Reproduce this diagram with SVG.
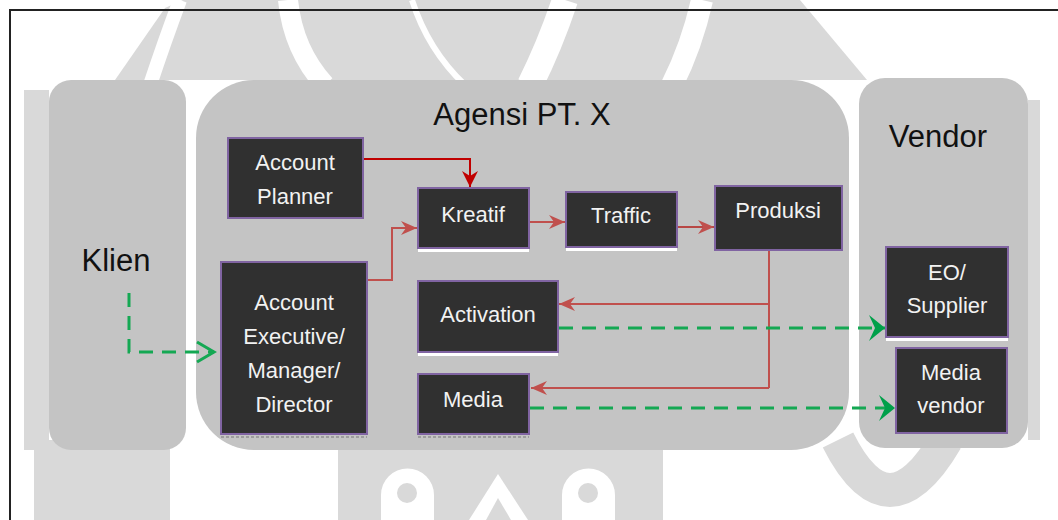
<svg xmlns="http://www.w3.org/2000/svg" width="1058" height="520" viewBox="0 0 1058 520">
<style>
.wm{fill:#d9d9d9}
.wmw{fill:none;stroke:#ffffff}
.panel{fill:#c4c4c4}
.box{fill:#303030;stroke:#8064a2;stroke-width:2}
.shine{fill:#ffffff}
.lbl{font-family:"Liberation Sans",Arial,sans-serif;font-size:22px;fill:#f2f2f2;text-anchor:middle}
.title{font-family:"Liberation Sans",Arial,sans-serif;font-size:31px;fill:#111111;text-anchor:middle}
.red{fill:none;stroke:#c0504d;stroke-width:2}
.dred{fill:none;stroke:#c00000;stroke-width:2}
.green{fill:none;stroke:#14a853;stroke-width:3;stroke-dasharray:14 9}
</style>
<defs>
<marker id="arRed" viewBox="0 0 16 14" markerWidth="16" markerHeight="14" refX="16" refY="7" orient="auto" markerUnits="userSpaceOnUse"><path d="M0,0 L16,7 L0,14 L5,7 Z" fill="#c0504d"/></marker>
<marker id="arDred" viewBox="0 0 16 16" markerWidth="16" markerHeight="16" refX="16" refY="8" orient="auto" markerUnits="userSpaceOnUse"><path d="M0,0 L16,8 L0,16 L5,8 Z" fill="#c00000"/></marker>
<marker id="arGreen" viewBox="0 0 16 26" markerWidth="16" markerHeight="26" refX="16" refY="13" orient="auto" markerUnits="userSpaceOnUse"><path d="M0,0 L16,13 L0,26 L6,13 Z" fill="#00a04a"/></marker>
<marker id="arChev" viewBox="0 0 20 24" markerWidth="20" markerHeight="24" refX="18" refY="12" orient="auto" markerUnits="userSpaceOnUse" overflow="visible"><path d="M1,2 L18,12 L1,22" fill="none" stroke="#14a853" stroke-width="3"/></marker>
</defs>
<rect width="1058" height="520" fill="#ffffff"/>
<g id="watermark">
<path class="wm" d="M115,80 L165,8 L183,0 L800,0 L867,80 Z"/>
<path class="wmw" stroke-width="14" d="M180,0 Q165,40 150,85"/>
<path class="wmw" stroke-width="20" d="M288,0 Q293,50 325,85"/>
<path class="wmw" stroke-width="6" d="M412,0 Q428,50 465,85"/>
<path class="wmw" stroke-width="26" d="M565,0 Q550,45 530,85"/>
<path class="wmw" stroke-width="22" d="M702,0 Q692,45 672,85"/>
<rect class="wm" x="24" y="90" width="25" height="360"/>
<rect class="wm" x="34" y="440" width="136" height="80"/>
<rect class="wm" x="1028" y="100" width="12" height="340"/>
<rect class="wm" x="338" y="440" width="325" height="80"/>
<path class="shine" d="M381,495 A26,26 0 0 1 434,495 L434,520 L381,520 Z"/>
<circle class="wm" cx="407" cy="493" r="10"/>
<path class="shine" d="M562,495 A26,26 0 0 1 615,495 L615,520 L562,520 Z"/>
<circle class="wm" cx="588" cy="493" r="10"/>
<path class="shine" d="M469,520 L498,474 L528,520 Z"/>
<path class="wm" d="M486,520 L498,498 L511,520 Z"/>
<path class="wmw" stroke="#d9d9d9" stroke-width="34" d="M838,440 Q888,540 946,440" style="stroke:#d9d9d9"/>
</g>
<path d="M10,520 L10,10 L1058,10" fill="none" stroke="#222222" stroke-width="2"/>
<g id="panels">
<rect id="klien" class="panel" x="49" y="80" width="137" height="370" rx="22"/>
<rect id="agensi" class="panel" x="196" y="80" width="653" height="370" rx="58"/>
<rect id="vendor" class="panel" x="859" y="78" width="169" height="370" rx="26"/>
<text class="title" x="522" y="125">Agensi PT. X</text>
<text class="title" x="938" y="147">Vendor</text>
<text class="title" x="116" y="271" font-size="32">Klien</text>
</g>
<g id="connectors">
<path class="dred" d="M363,159 H470 V187" marker-end="url(#arDred)"/>
<path class="red" d="M367,280 H392 V228 H417" marker-end="url(#arRed)"/>
<path class="red" d="M529,222 H565" marker-end="url(#arRed)"/>
<path class="red" d="M677,227 H714" stroke-width="3" style="stroke:#b84744" marker-end="url(#arRed)"/>
<path class="red" d="M769,250 V388"/>
<path class="red" d="M769,304 H559" marker-end="url(#arRed)"/>
<path class="red" d="M769,388 H531" marker-end="url(#arRed)"/>
<path class="green" d="M129,293 V352 H214" marker-end="url(#arChev)"/>
<path class="green" d="M559,328 H885" marker-end="url(#arGreen)"/>
<path class="green" d="M530,408 H895" marker-end="url(#arGreen)"/>
</g>
<g id="node-account-planner">
<rect class="box" x="228" y="138" width="135" height="80"/>
<text class="lbl" x="295" y="170">Account</text>
<text class="lbl" x="295" y="204">Planner</text>
</g>
<g id="node-account-executive">
<line x1="221" y1="437" x2="367" y2="437" stroke="#777" stroke-width="1" stroke-dasharray="3 2"/>
<rect class="box" x="221" y="262" width="146" height="172"/>
<text class="lbl" x="294" y="310">Account</text>
<text class="lbl" x="294" y="344">Executive/</text>
<text class="lbl" x="294" y="378">Manager/</text>
<text class="lbl" x="294" y="412">Director</text>
</g>
<g id="node-kreatif">
<rect class="shine" x="418" y="249" width="111" height="3"/>
<rect class="box" x="418" y="188" width="111" height="60"/>
<text class="lbl" x="473" y="222">Kreatif</text>
</g>
<g id="node-traffic">
<rect class="shine" x="566" y="248" width="111" height="3"/>
<rect class="box" x="566" y="192" width="111" height="55"/>
<text class="lbl" x="621" y="223">Traffic</text>
</g>
<g id="node-produksi">
<rect class="box" x="715" y="186" width="127" height="64"/>
<text class="lbl" x="778" y="218">Produksi</text>
</g>
<g id="node-activation">
<rect class="shine" x="418" y="353" width="140" height="3"/>
<rect class="box" x="418" y="281" width="140" height="71"/>
<text class="lbl" x="488" y="322">Activation</text>
</g>
<g id="node-media">
<line x1="418" y1="437" x2="529" y2="437" stroke="#777" stroke-width="1" stroke-dasharray="3 2"/>
<rect class="box" x="418" y="374" width="111" height="60"/>
<text class="lbl" x="473" y="407">Media</text>
</g>
<g id="node-eo-supplier">
<rect class="shine" x="886" y="338" width="122" height="3"/>
<rect class="box" x="886" y="247" width="122" height="90"/>
<text class="lbl" x="947" y="280">EO/</text>
<text class="lbl" x="947" y="313">Supplier</text>
</g>
<g id="node-media-vendor">
<rect class="box" x="896" y="348" width="111" height="85"/>
<text class="lbl" x="951" y="380">Media</text>
<text class="lbl" x="951" y="413">vendor</text>
</g>
</svg>
